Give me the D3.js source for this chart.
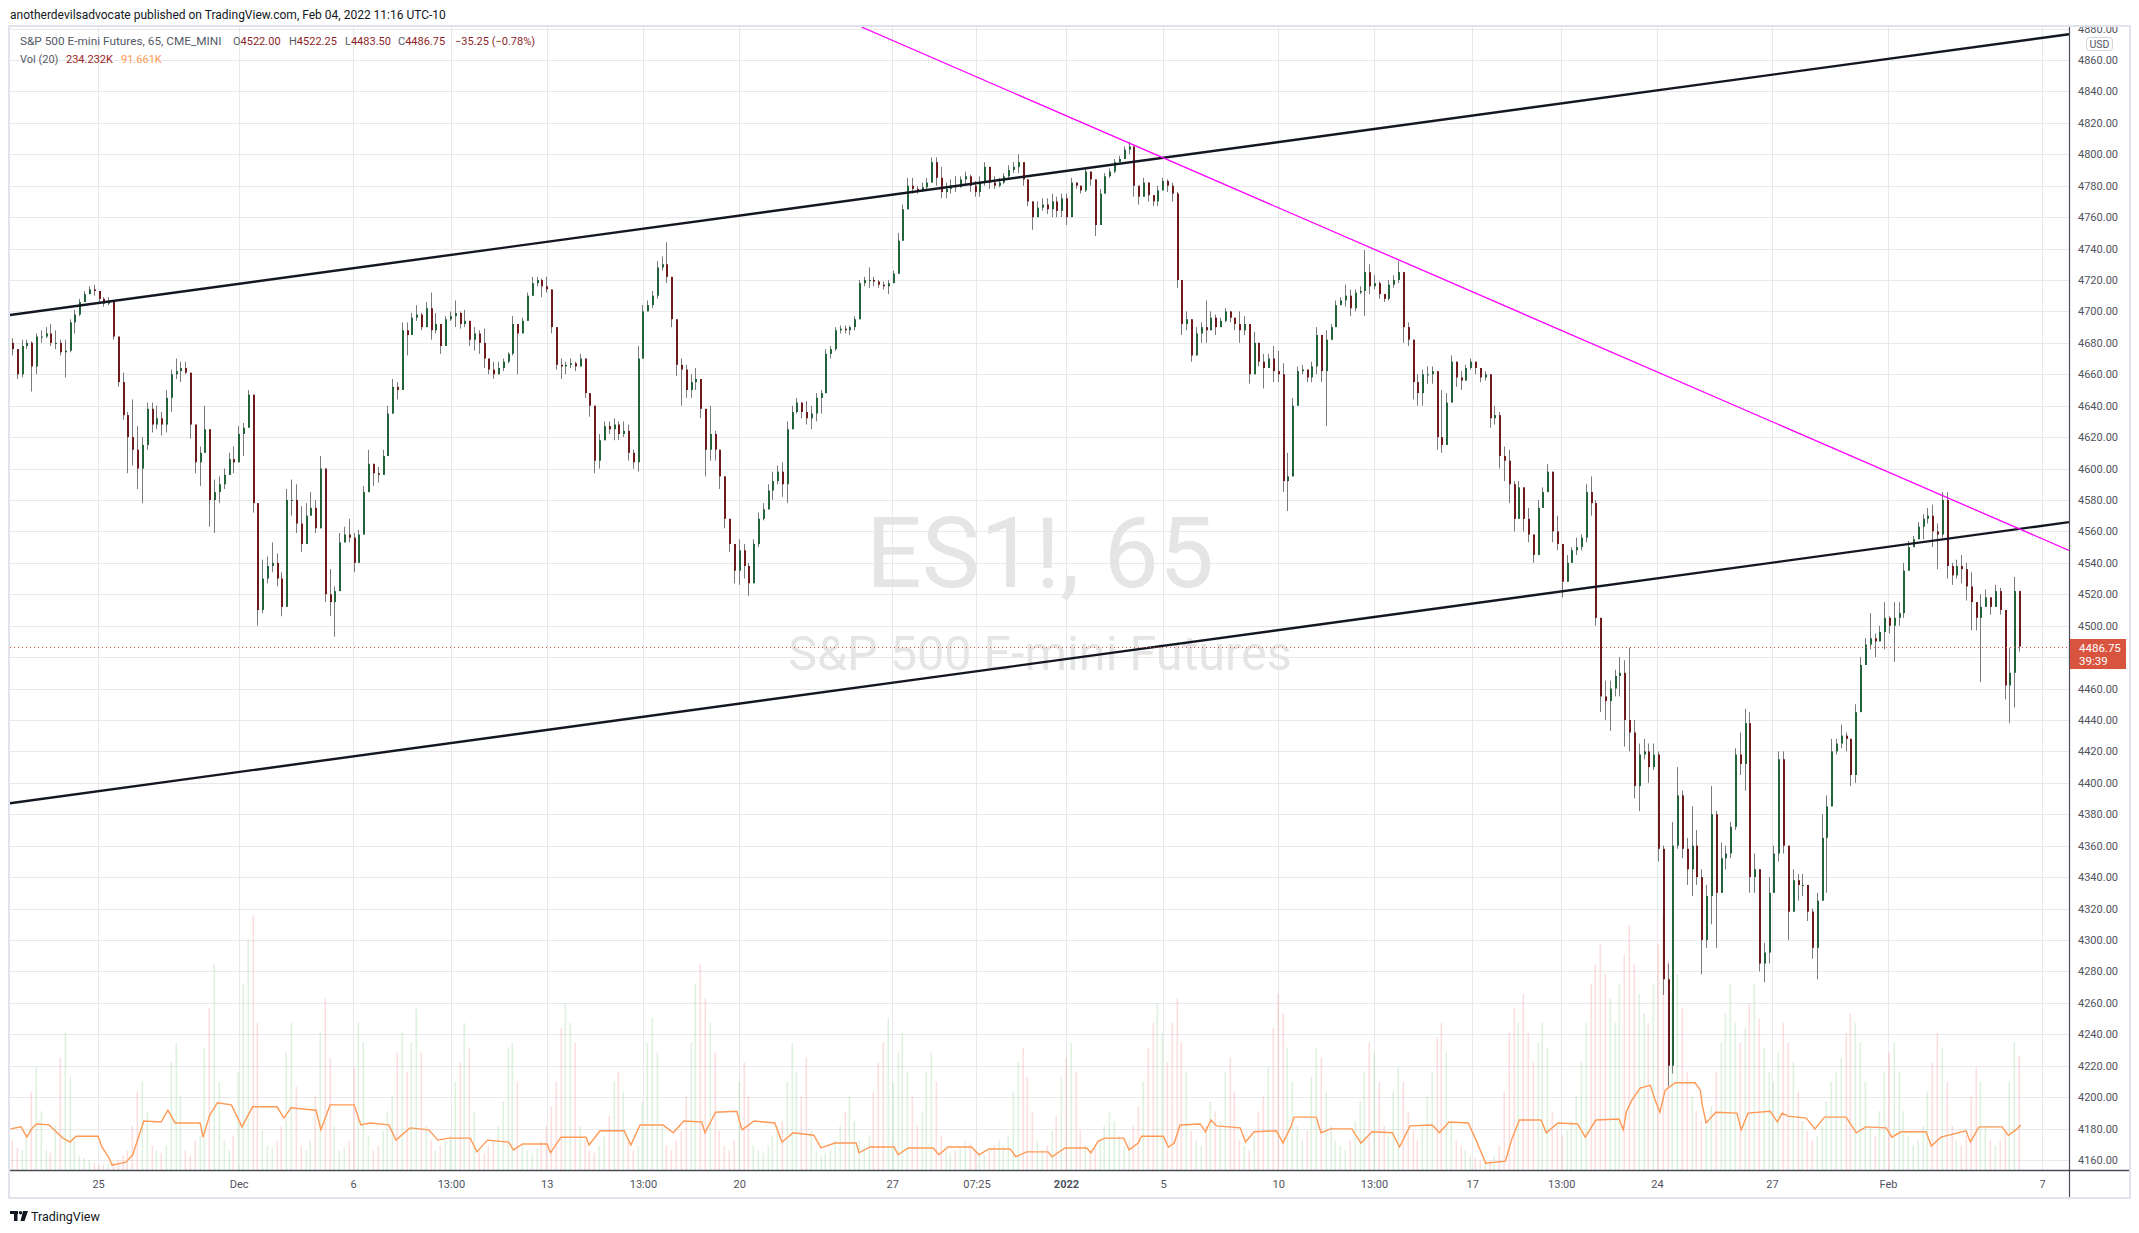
<!DOCTYPE html>
<html>
<head>
<meta charset="utf-8">
<style>
  html, body { margin: 0; padding: 0; background: #fff; }
  svg { display: block; }
  text { font-family: Roboto, "Liberation Sans", Arial, sans-serif; }
</style>
</head>
<body>
<svg id="chart" width="2139" height="1233"></svg>
<script src="https://d3js.org/d3.v7.min.js"></script>
<script>
'use strict';

// ES1! 65 min, one entry per bar
var highs = [
  4683,4676,4682,4682,4681,4686,4688,4690,4692,4688, 4682,4682,4695,4701,4708,4713,4716,4717,4712,4709,
  4709,4707,4684,4661,4636,4644,4627,4620,4642,4642, 4640,4636,4650,4663,4670,4668,4668,4661,4628,4614,
  4640,4625,4593,4595,4600,4610,4614,4627,4629,4650, 4647,4578,4542,4544,4553,4546,4534,4587,4593,4590,
  4576,4578,4585,4580,4608,4600,4536,4525,4559,4563, 4568,4559,4561,4589,4612,4603,4601,4612,4640,4657,
  4655,4693,4693,4699,4704,4699,4706,4712,4699,4692, 4697,4700,4707,4700,4701,4694,4690,4688,4689,4670,
  4668,4668,4670,4674,4697,4692,4696,4712,4722,4722, 4721,4722,4714,4690,4670,4668,4670,4668,4673,4670,
  4648,4640,4622,4630,4630,4632,4630,4630,4628,4612, 4678,4704,4707,4713,4732,4735,4744,4722,4695,4670,
  4666,4660,4664,4657,4638,4640,4624,4612,4595,4568, 4552,4555,4552,4540,4555,4572,4578,4590,4598,4602,
  4604,4630,4640,4645,4642,4643,4640,4648,4650,4676, 4678,4690,4691,4691,4691,4697,4720,4722,4728,4722,
  4720,4719,4720,4726,4750,4768,4785,4785,4780,4782, 4785,4798,4798,4792,4782,4784,4786,4786,4789,4787,
  4783,4786,4795,4792,4786,4785,4788,4793,4795,4800, 4795,4784,4770,4770,4772,4772,4775,4773,4775,4775,
  4785,4782,4780,4791,4789,4784,4778,4788,4791,4797, 4799,4805,4808,4805,4780,4785,4782,4774,4780,4785,
  4784,4782,4776,4720,4700,4695,4690,4693,4707,4700, 4698,4696,4702,4700,4696,4700,4697,4692,4687,4680,
  4673,4673,4678,4675,4667,4610,4645,4665,4666,4663, 4668,4690,4685,4688,4692,4707,4709,4717,4714,4714,
  4716,4739,4730,4723,4719,4711,4720,4723,4732,4725, 4693,4682,4660,4663,4665,4665,4662,4650,4648,4672,
  4668,4662,4666,4670,4668,4664,4662,4660,4640,4636, 4614,4612,4592,4592,4588,4575,4558,4580,4588,4603,
  4598,4570,4552,4545,4550,4556,4558,4590,4595,4580, 4505,4465,4465,4472,4480,4478,4486,4440,4425,4428,
  4425,4425,4420,4360,4285,4375,4410,4395,4365,4385, 4370,4345,4335,4398,4382,4362,4360,4375,4422,4432,
  4447,4445,4355,4345,4298,4340,4360,4420,4420,4360, 4345,4342,4342,4335,4320,4330,4380,4392,4428,4428,
  4437,4432,4428,4450,4480,4492,4508,4495,4500,4515, 4506,4515,4515,4540,4554,4557,4566,4571,4575,4577,
  4565,4585,4585,4540,4542,4545,4540,4534,4515,4520, 4523,4518,4526,4524,4510,4486,4531,4522.25
];
var lows = [
  4672,4657,4658,4676,4649,4660,4680,4683,4678,4676, 4672,4658,4674,4686,4697,4706,4711,4710,4706,4703,
  4704,4682,4652,4631,4597,4602,4587,4578,4612,4623, 4625,4621,4623,4636,4657,4655,4660,4619,4597,4589,
  4610,4563,4559,4578,4587,4596,4597,4604,4608,4626, 4572,4500,4508,4527,4534,4525,4506,4512,4570,4559,
  4547,4552,4570,4559,4562,4515,4506,4493,4522,4553, 4553,4534,4540,4558,4585,4589,4591,4596,4608,4635,
  4644,4650,4672,4685,4694,4688,4690,4682,4686,4673, 4678,4694,4690,4689,4690,4678,4675,4673,4664,4660,
  4657,4660,4662,4667,4672,4660,4686,4694,4710,4716, 4709,4712,4686,4663,4657,4660,4664,4662,4665,4645,
  4633,4597,4600,4618,4622,4618,4618,4620,4605,4600, 4598,4670,4700,4702,4708,4726,4718,4690,4659,4640,
  4645,4645,4650,4632,4595,4605,4605,4587,4562,4547, 4527,4526,4530,4519,4527,4550,4567,4574,4580,4590,
  4582,4578,4625,4635,4632,4628,4625,4630,4635,4648, 4670,4675,4686,4686,4685,4688,4695,4716,4715,4716,
  4715,4714,4711,4718,4724,4745,4765,4775,4775,4776, 4778,4782,4780,4772,4772,4775,4776,4779,4781,4776,
  4773,4773,4780,4778,4778,4779,4781,4785,4788,4788, 4780,4767,4752,4760,4764,4762,4760,4760,4760,4755,
  4760,4778,4775,4776,4780,4748,4755,4775,4785,4788, 4795,4797,4800,4773,4768,4773,4770,4767,4767,4777,
  4776,4770,4715,4685,4688,4668,4672,4680,4680,4688, 4685,4690,4693,4693,4688,4680,4685,4654,4660,4665,
  4651,4664,4655,4655,4585,4573,4595,4640,4660,4655, 4655,4660,4655,4627,4682,4690,4704,4703,4697,4700,
  4711,4697,4711,4714,4708,4706,4707,4715,4718,4680, 4678,4644,4640,4640,4654,4654,4612,4610,4615,4642,
  4652,4650,4656,4663,4660,4655,4656,4626,4628,4600, 4592,4578,4560,4568,4560,4553,4540,4545,4575,4585,
  4553,4548,4518,4528,4540,4545,4548,4553,4570,4500, 4445,4440,4433,4455,4455,4423,4420,4390,4382,4415,
  4400,4408,4350,4265,4207,4215,4358,4352,4335,4328, 4335,4278,4295,4310,4295,4330,4345,4352,4370,4405,
  4395,4330,4330,4280,4273,4285,4330,4350,4355,4300, 4318,4325,4328,4312,4288,4275,4325,4330,4385,4418,
  4422,4420,4398,4400,4445,4475,4485,4480,4490,4485, 4495,4477,4500,4505,4535,4550,4555,4555,4565,4550,
  4536,4556,4530,4526,4530,4527,4516,4497,4497,4464, 4512,4507,4512,4507,4453,4438,4448,4483.5
];
var closes = [
  4676,4660,4678,4680,4665,4684,4684,4686,4680,4680, 4674,4675,4693,4698,4706,4711,4714,4713,4708,4705,
  4707,4684,4655,4634,4620,4612,4600,4615,4638,4628, 4632,4628,4645,4660,4662,4664,4661,4628,4604,4610,
  4625,4580,4585,4590,4596,4606,4604,4622,4626,4647, 4578,4510,4530,4538,4540,4530,4512,4580,4580,4565,
  4552,4570,4575,4562,4600,4520,4515,4522,4553,4558, 4556,4540,4558,4585,4603,4597,4596,4608,4635,4652,
  4650,4688,4685,4696,4698,4690,4702,4688,4692,4678, 4695,4697,4699,4692,4694,4682,4686,4680,4670,4663,
  4660,4664,4668,4673,4692,4686,4694,4710,4718,4720, 4716,4714,4690,4666,4665,4666,4667,4665,4670,4648,
  4640,4605,4618,4627,4625,4628,4622,4624,4610,4604, 4670,4700,4704,4710,4728,4730,4722,4695,4666,4663,
  4650,4655,4657,4638,4612,4622,4612,4595,4568,4552, 4535,4548,4538,4527,4552,4568,4574,4586,4592,4598,
  4590,4625,4636,4642,4636,4632,4635,4645,4648,4673, 4676,4688,4689,4688,4690,4695,4718,4720,4720,4719,
  4717,4716,4718,4724,4745,4765,4780,4778,4777,4779, 4782,4795,4785,4776,4778,4780,4779,4784,4786,4780,
  4776,4782,4792,4782,4780,4782,4786,4790,4792,4795, 4784,4770,4760,4766,4768,4765,4770,4764,4772,4760,
  4782,4780,4777,4789,4784,4755,4775,4786,4789,4795, 4797,4803,4805,4780,4773,4782,4774,4770,4777,4783,
  4780,4775,4720,4692,4695,4672,4686,4690,4688,4696, 4690,4694,4700,4696,4692,4688,4692,4660,4680,4668,
  4664,4670,4662,4660,4592,4595,4640,4662,4663,4658, 4665,4685,4662,4682,4690,4704,4707,4710,4702,4712,
  4713,4725,4716,4718,4711,4708,4717,4720,4725,4690, 4682,4655,4648,4660,4660,4662,4620,4615,4642,4668,
  4658,4656,4664,4668,4664,4658,4660,4632,4634,4608, 4605,4590,4568,4588,4568,4558,4545,4575,4585,4598,
  4560,4552,4528,4540,4548,4550,4556,4585,4578,4505, 4455,4452,4460,4468,4470,4440,4432,4398,4418,4420,
  4410,4418,4358,4275,4220,4360,4392,4358,4345,4360, 4340,4300,4328,4380,4330,4352,4355,4372,4418,4412,
  4438,4340,4345,4285,4292,4330,4355,4415,4360,4318, 4338,4335,4335,4318,4295,4325,4365,4385,4420,4425,
  4430,4428,4405,4445,4475,4488,4492,4490,4496,4505, 4500,4505,4508,4535,4550,4555,4563,4568,4570,4560,
  4558,4580,4538,4532,4538,4536,4525,4515,4505,4512, 4518,4512,4522,4510,4462,4470,4522,4486.75
];
// volume per bar, thousands of contracts
var volumes = [
  60,45,40,70,160,210,120,40,35,90, 230,280,190,60,30,25,20,15,10,10,
  12,15,20,30,40,90,160,180,120,50, 40,35,50,220,260,150,40,30,60,70,
  250,330,420,180,60,40,70,200,380,470, 520,300,80,50,45,60,90,240,300,170,
  50,40,60,150,280,350,230,90,40,45, 60,210,300,260,70,40,50,80,120,150,
  240,280,200,260,330,240,90,60,40,50, 60,70,180,220,300,250,120,40,35,50,
  60,90,140,250,260,180,50,40,35,45, 60,90,130,180,290,340,300,260,90,60,
  40,35,50,70,110,180,200,160,60,40, 50,140,260,310,240,90,50,40,60,80,
  150,260,380,420,350,300,240,80,50,40, 60,180,220,150,50,40,35,50,70,90,
  100,180,260,200,150,230,80,40,30,35, 40,60,90,120,150,100,60,50,70,160,
  220,260,310,180,240,280,200,150,90,120, 200,240,180,70,40,35,40,45,60,55,
  40,35,30,40,50,60,50,70,160,220, 250,190,120,60,40,50,80,110,190,230,
  260,200,80,50,40,45,60,90,120,100, 70,50,60,90,130,180,250,300,340,280,
  220,300,350,260,200,80,60,50,90,140, 120,100,200,230,160,60,50,40,70,120,
  150,210,290,360,320,250,180,90,60,80, 190,250,230,160,90,60,50,40,60,100,
  140,200,260,240,180,90,70,160,210,180, 120,80,60,90,150,200,270,300,240,100,
  60,50,40,30,25,20,18,20,30,50, 160,280,330,300,360,280,220,260,300,250,
  120,90,70,80,100,150,220,300,380,420, 460,400,350,300,380,440,500,420,360,320,
  300,380,460,520,430,360,400,330,200,150, 120,100,90,130,200,260,320,380,300,260,
  290,340,380,310,250,200,180,240,300,260, 220,160,100,80,60,70,90,140,180,200,
  230,280,320,300,260,180,90,70,120,200, 240,260,200,120,70,50,60,90,160,220,
  280,250,180,90,60,50,70,150,210,180, 90,60,50,60,80,180,260,234.232
];
// Vol (20) average as drawn: [bar, thousands]
var volMa = [
  [-0.3,84],[1.9,88],[3.1,67],[4.1,84],[5.1,94],[7.7,92],[10.6,65],[12.1,57],[13.3,69],[17.9,69],
  [18.7,47],[20.2,24],[20.8,10],[23.7,16],[25.1,31],[26.6,76],[27.4,100],[31,98],[32.4,122],[33.9,96],
  [39.1,96],[39.7,67],[41.1,112],[42.7,137],[45.6,133],[47.8,88],[50,129],[55.1,129],[56.5,106],[58,127],
  [63.2,122],[64.2,82],[66.1,133],[71.1,133],[72.5,92],[74.4,96],[78.3,92],[79.8,61],[82.7,86],[86.6,82],
  [88.5,61],[90.8,65],[95.2,65],[96.6,37],[98.8,61],[103.2,57],[104.2,41],[106.1,53],[111.2,53],[111.9,35],
  [114.1,67],[119.3,67],[119.9,51],[122.2,80],[127.2,80],[128.6,51],[130.5,92],[135.3,92],[137.4,76],[139.6,100],
  [143.3,98],[144,76],[146.2,118],[150.6,120],[151.7,82],[154.2,100],[158.5,96],[160,57],[162.3,76],[166.6,71],
  [168.1,45],[171,55],[175.4,55],[176,35],[178.3,47],[183.3,47],[184.1,31],[186.2,45],[191.4,45],[192.6,31],
  [194.5,47],[199.4,47],[200.9,31],[203,43],[207.4,43],[208.6,27],[210.8,37],[215.3,37],[216.1,27],[218.8,45],
  [223.3,45],[224.2,35],[225.7,59],[227.1,65],[231,65],[232.1,41],[234,55],[234.7,69],[239.2,69],[240.3,47],
  [241.5,55],[242.7,92],[246.9,94],[248,78],[249.1,102],[250.3,90],[255.2,86],[256.3,57],[258.1,78],[262.7,80],
  [264.1,55],[265.7,88],[266.4,108],[271,108],[272,76],[274,84],[278.4,84],[280.3,55],[282.6,78],[286.8,76],
  [288.3,47],[290.5,90],[295.1,92],[296.6,76],[298.6,98],[302.6,96],[304.2,61],[306.2,14],[310.3,18],[311.7,65],
  [313.2,102],[317.7,102],[318.8,76],[321.2,96],[325.3,94],[326.9,67],[329.1,102],[333.9,104],[334.8,82],[335.4,118],
  [336.6,143],[338.3,167],[340.4,173],[341.4,143],[342.4,118],[343.5,163],[345.6,178],[349.7,178],[350.8,163],[351.2,133],
  [352,96],[354,118],[358.4,116],[359.3,82],[360.7,116],[365.3,120],[366.8,98],[367.8,116],[369,110],[372.8,106],
  [374.6,84],[376.6,108],[381.1,108],[383.2,76],[385.2,88],[389.4,86],[390.6,67],[392.5,78],[397.7,78],[398.8,49],
  [400.8,67],[406,80],[406.9,57],[408.7,88],[413.5,88],[414.8,71],[416.6,84],[417.4,91.661]
];
var timeLabels = ['25','Dec','6','13:00','13','13:00','20','27','07:25','2022','5','10','13:00','17','13:00','24','27','Feb','7'];
var timeTickBars = [17.9,47.1,70.9,91.2,111.1,131.1,151.1,182.9,200.4,219.0,239.2,263.1,283.0,303.4,321.9,341.8,365.7,389.8,421.8];
var priceTicks = d3.range(4160, 4881, 20);
// drawn lines: [bar, price]
var channelUpper = [[-0.4,4697.7],[427.4,4876.4]];
var channelLower = [[-0.4,4387.0],[427.4,4565.9]];
var resistance = [[176.5,4881],[427.4,4547.9]];
var lastPrice = 4486.75;
var firstOpen = 4680;

var W = 2139, H = 1233;
var pLeft = 10, pRight = 2069, pTop = 27, pBottom = 1170, frameRight = 2129, frameBottom = 1197;
var SMALL = '"Liberation Sans", Arial, sans-serif';

var opens = closes.map(function (c, i) { return i ? closes[i - 1] : firstOpen; });

var svg = d3.select('#chart');
var x = d3.scaleLinear().domain([-0.4, 427.4]).range([pLeft, pRight]);
var y = d3.scaleLinear().domain([4153.6, 4881]).range([pBottom, pTop]);
var yVol = d3.scaleLinear().domain([0, 2333]).range([pBottom, pTop]);

svg.append('rect').attr('width', W).attr('height', H).attr('fill', '#fff');

var defs = svg.append('defs');
defs.append('clipPath').attr('id', 'plot')
  .append('rect').attr('x', pLeft).attr('y', pTop).attr('width', pRight - pLeft).attr('height', pBottom - pTop);
defs.append('clipPath').attr('id', 'paxis')
  .append('rect').attr('x', pRight).attr('y', pTop).attr('width', frameRight - pRight).attr('height', pBottom - pTop);

// frame
svg.append('rect').attr('x', pLeft - 1).attr('y', pTop - 1)
  .attr('width', frameRight - pLeft + 2).attr('height', frameBottom - pTop + 2)
  .attr('fill', 'none').attr('stroke', '#e0e3eb').attr('stroke-width', 2);

var plot = svg.append('g').attr('clip-path', 'url(#plot)');

// grid
plot.append('g').selectAll('line').data(priceTicks).join('line')
  .attr('x1', pLeft).attr('x2', pRight)
  .attr('y1', function (d) { return Math.round(y(d)) + 0.5; })
  .attr('y2', function (d) { return Math.round(y(d)) + 0.5; })
  .attr('stroke', '#e9e9ec');
plot.append('g').selectAll('line').data(timeTickBars).join('line')
  .attr('x1', function (d) { return Math.round(x(d)) + 0.5; })
  .attr('x2', function (d) { return Math.round(x(d)) + 0.5; })
  .attr('y1', pTop).attr('y2', pBottom)
  .attr('stroke', '#e9e9ec');

// watermark
plot.append('text').attr('x', 1040).attr('y', 587).attr('text-anchor', 'middle')
  .attr('font-size', 98).attr('fill', '#e5e5e5').text('ES1!, 65');
plot.append('text').attr('x', 1040).attr('y', 670).attr('text-anchor', 'middle')
  .attr('font-size', 48.5).attr('fill', '#e5e5e5').text('S&P 500 E-mini Futures');

// volume
plot.append('g').selectAll('rect').data(volumes).join('rect')
  .attr('x', function (d, i) { return Math.round(x(i)) - 0.5; })
  .attr('width', 1.6)
  .attr('y', function (d) { return yVol(d); })
  .attr('height', function (d) { return pBottom - yVol(d); })
  .attr('fill', function (d, i) { return closes[i] >= opens[i] ? 'rgba(76,175,80,0.18)' : 'rgba(239,83,80,0.18)'; });

plot.append('path').datum(volMa)
  .attr('fill', 'none').attr('stroke', '#ff9a56').attr('stroke-width', 1.4)
  .attr('d', d3.line().x(function (d) { return x(d[0]); }).y(function (d) { return yVol(d[1]); }));

// candles
var candles = plot.append('g').selectAll('g').data(closes).join('g');
candles.append('line')
  .attr('x1', function (d, i) { return Math.round(x(i)) + 0.5; })
  .attr('x2', function (d, i) { return Math.round(x(i)) + 0.5; })
  .attr('y1', function (d, i) { return y(highs[i]); })
  .attr('y2', function (d, i) { return y(lows[i]); })
  .attr('stroke', '#7b7b7b').attr('stroke-width', 1);
candles.append('rect')
  .attr('x', function (d, i) { return Math.round(x(i)); })
  .attr('width', 2)
  .attr('y', function (d, i) { return y(Math.max(opens[i], d)); })
  .attr('height', function (d, i) { return Math.max(1, Math.abs(y(opens[i]) - y(d))); })
  .attr('fill', function (d, i) { return d >= opens[i] ? '#22633a' : '#6e1a1a'; });

// drawn lines
var seg = d3.line().x(function (d) { return x(d[0]); }).y(function (d) { return y(d[1]); });
plot.append('path').datum(channelUpper).attr('d', seg).attr('stroke', '#131722').attr('stroke-width', 2.4).attr('fill', 'none');
plot.append('path').datum(channelLower).attr('d', seg).attr('stroke', '#131722').attr('stroke-width', 2.4).attr('fill', 'none');
plot.append('path').datum(resistance).attr('d', seg).attr('stroke', '#ff00ff').attr('stroke-width', 1.3).attr('fill', 'none');

// last price line
plot.append('line').attr('x1', pLeft).attr('x2', pRight)
  .attr('y1', Math.round(y(lastPrice)) + 0.5).attr('y2', Math.round(y(lastPrice)) + 0.5)
  .attr('stroke', '#e04a3f').attr('stroke-width', 1).attr('stroke-dasharray', '1,3');

// axes lines
svg.append('line').attr('x1', pRight + 0.5).attr('x2', pRight + 0.5).attr('y1', pTop).attr('y2', frameBottom)
  .attr('stroke', '#4a4d57').attr('stroke-width', 1.2);
svg.append('line').attr('x1', pLeft).attr('x2', frameRight).attr('y1', pBottom + 0.5).attr('y2', pBottom + 0.5)
  .attr('stroke', '#4a4d57').attr('stroke-width', 1.4);

// price axis (labels under the last-price badge are hidden, as in the app)
var yAxis = svg.append('g').attr('clip-path', 'url(#paxis)').append('g')
  .attr('transform', 'translate(' + pRight + ',0)')
  .call(d3.axisRight(y).tickValues(priceTicks).tickFormat(d3.format('.2f')).tickSize(0).tickPadding(9));
yAxis.select('.domain').remove();
yAxis.selectAll('.tick').filter(function (d) { return Math.abs(y(d) - y(lastPrice)) < 18; }).remove();
yAxis.selectAll('text').attr('font-size', 11).attr('fill', '#50535e').attr('font-family', SMALL);

// USD badge
svg.append('rect').attr('x', 2086.5).attr('y', 37.5).attr('width', 26).attr('height', 13).attr('rx', 3)
  .attr('fill', '#fff').attr('stroke', '#d1d4dc');
svg.append('text').attr('x', 2099.5).attr('y', 48).attr('text-anchor', 'middle')
  .attr('font-size', 10.5).attr('font-family', SMALL).attr('fill', '#50535e').text('USD');

// last price badge
svg.append('rect').attr('x', pRight + 1).attr('y', 639).attr('width', 56).attr('height', 30)
  .attr('fill', '#d9543f');
svg.append('text').attr('x', 2079).attr('y', 651.5).attr('font-size', 11.5).attr('font-family', SMALL)
  .attr('fill', '#fff').text(d3.format('.2f')(lastPrice));
svg.append('text').attr('x', 2079).attr('y', 665).attr('font-size', 11.5).attr('font-family', SMALL)
  .attr('fill', '#fff').text('39:39');

// time axis
var xAxis = svg.append('g').attr('transform', 'translate(0,' + pBottom + ')')
  .call(d3.axisBottom(x).tickValues(timeTickBars)
    .tickFormat(function (d, i) { return timeLabels[i]; }).tickSize(0).tickPadding(10));
xAxis.select('.domain').remove();
xAxis.selectAll('text').attr('font-size', 11).attr('fill', '#50535e').attr('font-family', SMALL)
  .attr('font-weight', function (d, i) { return timeLabels[i] === '2022' ? 'bold' : null; });

// header
svg.append('text').attr('x', 10).attr('y', 19).attr('font-size', 12).attr('fill', '#131722')
  .text('anotherdevilsadvocate published on TradingView.com, Feb 04, 2022 11:16 UTC-10');

// legend
svg.append('text').attr('x', 20).attr('y', 45).attr('font-size', 11.8).attr('font-family', SMALL)
  .attr('fill', '#555a66').text('S&P 500 E-mini Futures, 65, CME_MINI');
var volRow = [[20, 'Vol (20)', '#555a66'], [66, '234.232K', '#9c2626'], [121, '91.661K', '#ff9a56']];
volRow.forEach(function (c) {
  svg.append('text').attr('x', c[0]).attr('y', 63).attr('font-size', 11)
    .attr('font-family', SMALL).attr('fill', c[2]).text(c[1]);
});
var ohlcKeys = ['O', 'H', 'L', 'C'];
var ohlcValues = ['4522.00', '4522.25', '4483.50', '4486.75'];
var ohlcX = [233, 289, 345, 398];
ohlcKeys.forEach(function (k, i) {
  var t = svg.append('text').attr('x', ohlcX[i]).attr('y', 45).attr('font-size', 11).attr('font-family', SMALL);
  t.append('tspan').attr('fill', '#555a66').text(k);
  t.append('tspan').attr('fill', '#8b1f1f').text(ohlcValues[i]);
});
svg.append('text').attr('x', 455).attr('y', 45).attr('font-size', 11).attr('font-family', SMALL)
  .attr('fill', '#8b1f1f').text('\u221235.25 (\u22120.78%)');

// TradingView mark
var logo = svg.append('g').attr('fill', '#131722');
logo.append('rect').attr('x', 10).attr('y', 1211).attr('width', 8).attr('height', 3);
logo.append('rect').attr('x', 14).attr('y', 1211).attr('width', 3.5).attr('height', 10);
logo.append('circle').attr('cx', 20.5).attr('cy', 1212.8).attr('r', 1.7);
logo.append('path').attr('d', 'M23,1211 L28,1211 L24.5,1221 L20.5,1221 Z');
svg.append('text').attr('x', 31).attr('y', 1220.5).attr('font-size', 12.5).attr('fill', '#131722').text('TradingView');
</script>
</body>
</html>
